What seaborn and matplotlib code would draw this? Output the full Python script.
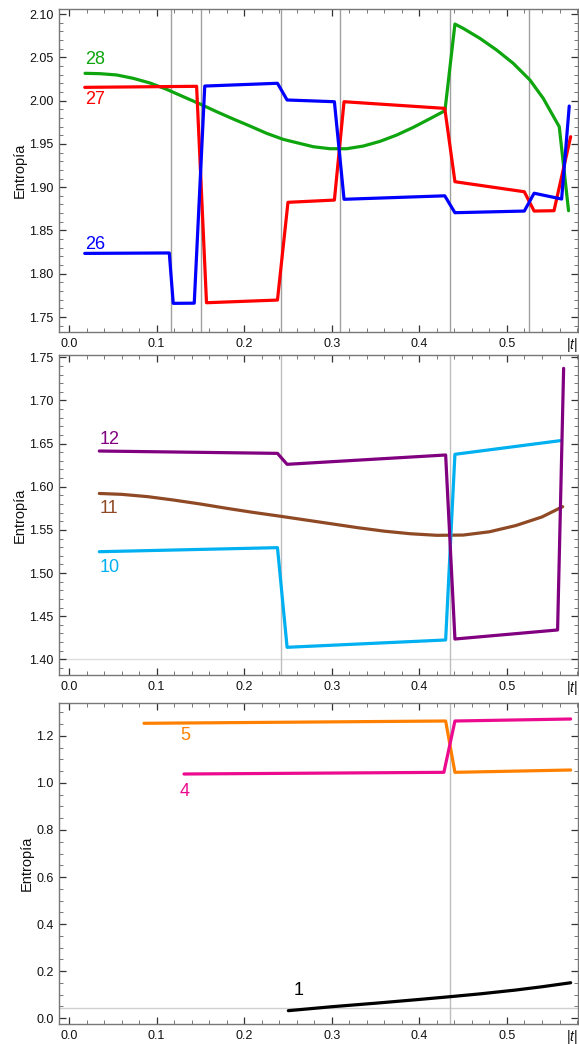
import numpy as np
import pandas as pd
import matplotlib
matplotlib.use("Agg")
import matplotlib.pyplot as plt
from matplotlib.ticker import MultipleLocator, FormatStrFormatter
import seaborn as sns

# ---------------- data ----------------
# top panel
t26 = [0.018, 0.1145, 0.119, 0.143, 0.155, 0.238, 0.249, 0.303, 0.314, 0.429, 0.4406, 0.5198, 0.531, 0.5624, 0.5711]
s26 = [1.8235, 1.824, 1.7658, 1.766, 2.0168, 2.020, 2.0007, 1.9987, 1.886, 1.890, 1.8705, 1.8724, 1.893, 1.8863, 1.9937]
t27 = [0.018, 0.1457, 0.157, 0.238, 0.250, 0.303, 0.314, 0.429, 0.4406, 0.5198, 0.531, 0.5537, 0.5727]
s27 = [2.0153, 2.0165, 1.7665, 1.7696, 1.8825, 1.8851, 1.9987, 1.991, 1.9063, 1.8947, 1.8724, 1.8728, 1.9583]
t28 = [0.0183, 0.0354, 0.0545, 0.0734, 0.0925, 0.1115, 0.1305, 0.1495, 0.1685, 0.1876, 0.2066,
       0.2256, 0.2446, 0.2599, 0.2789, 0.2980, 0.3170, 0.3360, 0.3550, 0.3741, 0.3931, 0.4121,
       0.4292, 0.4406, 0.4501, 0.4691, 0.4882, 0.5072, 0.5262, 0.5414, 0.5597, 0.5703]
s28 = [2.0315, 2.0311, 2.0296, 2.0257, 2.0203, 2.0130, 2.0045, 1.9961, 1.9872, 1.9787, 1.9706,
       1.9622, 1.9552, 1.9514, 1.9467, 1.9444, 1.9444, 1.9475, 1.9529, 1.9602, 1.9691, 1.9791,
       1.9883, 2.0884, 2.0834, 2.0719, 2.0584, 2.0430, 2.0238, 2.0026, 1.9698, 1.8728]
vlines_top = [0.1164, 0.151, 0.242, 0.3097, 0.4353, 0.5255]

# middle panel
t12 = [0.0346, 0.238, 0.249, 0.430, 0.4406, 0.5578, 0.5647]
s12 = [1.6414, 1.6387, 1.626, 1.6368, 1.4235, 1.434, 1.7372]
t11 = [0.0346, 0.06, 0.09, 0.12, 0.15, 0.18, 0.21, 0.24, 0.27, 0.30, 0.33, 0.36, 0.39,
       0.42, 0.45, 0.48, 0.51, 0.54, 0.5636]
s11 = [1.5922, 1.5912, 1.5885, 1.5845, 1.5800, 1.5750, 1.5703, 1.5660, 1.5615, 1.5570,
       1.5525, 1.5485, 1.5455, 1.5437, 1.5440, 1.5478, 1.5550, 1.5650, 1.5769]
t10 = [0.0346, 0.238, 0.249, 0.430, 0.4406, 0.5606]
s10 = [1.5247, 1.5294, 1.4139, 1.4224, 1.6376, 1.6534]
vlines_mid = [0.242, 0.4353]
hline_mid = 1.40

# bottom panel
t5 = [0.0856, 0.430, 0.4406, 0.5727]
s5 = [1.254, 1.2638, 1.0454, 1.0553]
t4 = [0.1313, 0.428, 0.4406, 0.5727]
s4 = [1.0383, 1.0454, 1.2638, 1.2723]
t1 = [0.2504, 0.30, 0.35, 0.40, 0.4353, 0.47, 0.51, 0.54, 0.5727]
s1 = [0.0312, 0.0480, 0.0630, 0.0790, 0.0908, 0.1030, 0.1190, 0.1330, 0.1500]
vlines_bot = [0.4353]
hline_bot = 0.041

# ---------------- style ----------------
sns.set_theme(style="white")
plt.rcParams["font.family"] = ["Liberation Sans", "DejaVu Sans"]
plt.rcParams["mathtext.fontset"] = "custom"
plt.rcParams["mathtext.it"] = "Liberation Sans:italic"
plt.rcParams["mathtext.rm"] = "Liberation Sans"

C_GREEN = "#0ea50e"
C_RED = "#ff0000"
C_BLUE = "#0000ff"
C_PURPLE = "#800080"
C_BROWN = "#8f4a25"
C_CYAN = "#00b0f0"
C_ORANGE = "#ff8000"
C_PINK = "#ec0b8f"
C_BLACK = "#000000"

W, H = 579, 1044
fig = plt.figure(figsize=(W / 100, H / 100), dpi=100)

def box(top_px, bot_px, left_px=59, right_px=578):
    return [left_px / W, 1 - bot_px / H, (right_px - left_px) / W, (bot_px - top_px) / H]

ax1 = fig.add_axes(box(9, 332))
ax2 = fig.add_axes(box(355, 675))
ax3 = fig.add_axes(box(703, 1024))

def draw(ax, t, s, color, lw=2.3):
    df = pd.DataFrame({"t": t, "s": s})
    sns.lineplot(data=df, x="t", y="s", ax=ax, color=color, lw=lw,
                 estimator=None, sort=False, legend=False)

def style(ax, ylim, ymaj, ymin):
    ax.set_xlim(-0.0114, 0.5811)
    ax.set_ylim(*ylim)
    ax.xaxis.set_major_locator(MultipleLocator(0.1))
    ax.xaxis.set_minor_locator(MultipleLocator(0.02))
    ax.yaxis.set_major_locator(MultipleLocator(ymaj))
    ax.yaxis.set_minor_locator(MultipleLocator(ymin))
    ax.tick_params(which="both", direction="in", top=True, right=True,
                   bottom=True, left=True, labelsize=9, colors="#333333",
                   labelcolor="#111111")
    ax.tick_params(which="major", length=5, width=0.9, pad=4)
    ax.tick_params(which="minor", length=2.8, width=0.7, color="#777777")
    for sp in ax.spines.values():
        sp.set_color("#777777")
        sp.set_linewidth(1.0)
        sp.set_visible(True)
    ax.set_xlabel("")
    ax.set_ylabel("Entropía", fontsize=10.5, color="#111111", labelpad=2)
    ax.text(1.0, -0.012, "|$t$|", transform=ax.transAxes, ha="right", va="top",
            fontsize=10, color="#111111")

LBL = 13

# top panel
for v in vlines_top:
    ax1.axvline(v, color="#a0a0a0", lw=1.0, zorder=0)
draw(ax1, t28, s28, C_GREEN)
draw(ax1, t27, s27, C_RED)
draw(ax1, t26, s26, C_BLUE)
style(ax1, (1.7327, 2.1058), 0.05, 0.01)
ax1.yaxis.set_major_formatter(FormatStrFormatter("%.2f"))
ax1.text(0.018, 2.0469, "28", color=C_GREEN, fontsize=LBL, ha="left", va="center")
ax1.text(0.018, 2.0007, "27", color=C_RED, fontsize=LBL, ha="left", va="center")
ax1.text(0.018, 1.834, "26", color=C_BLUE, fontsize=LBL, ha="left", va="center")

# middle panel
ax2.axhline(hline_mid, color="#dddddd", lw=1.0, zorder=0)
for v in vlines_mid:
    ax2.axvline(v, color="#bdbdbd", lw=1.0, zorder=0)
draw(ax2, t11, s11, C_BROWN)
draw(ax2, t10, s10, C_CYAN)
draw(ax2, t12, s12, C_PURPLE)
style(ax2, (1.3818, 1.7527), 0.05, 0.01)
ax2.yaxis.set_major_formatter(FormatStrFormatter("%.2f"))
ax2.text(0.0346, 1.6553, "12", color=C_PURPLE, fontsize=LBL, ha="left", va="center")
ax2.text(0.0346, 1.575, "11", color=C_BROWN, fontsize=LBL, ha="left", va="center")
ax2.text(0.0346, 1.5066, "10", color=C_CYAN, fontsize=LBL, ha="left", va="center")

# bottom panel
ax3.axhline(hline_bot, color="#d0d0d0", lw=1.0, zorder=0)
for v in vlines_bot:
    ax3.axvline(v, color="#bdbdbd", lw=1.0, zorder=0)
draw(ax3, t5, s5, C_ORANGE)
draw(ax3, t4, s4, C_PINK)
draw(ax3, t1, s1, C_BLACK)
style(ax3, (-0.0255, 1.3404), 0.2, 0.05)
ax3.yaxis.set_major_formatter(FormatStrFormatter("%.1f"))
ax3.text(0.1267, 1.20, "5", color=C_ORANGE, fontsize=LBL, ha="left", va="center")
ax3.text(0.1267, 0.963, "4", color=C_PINK, fontsize=LBL, ha="left", va="center")
ax3.text(0.256, 0.116, "1", color=C_BLACK, fontsize=LBL, ha="left", va="center")

fig.savefig("out.png", dpi=100)
